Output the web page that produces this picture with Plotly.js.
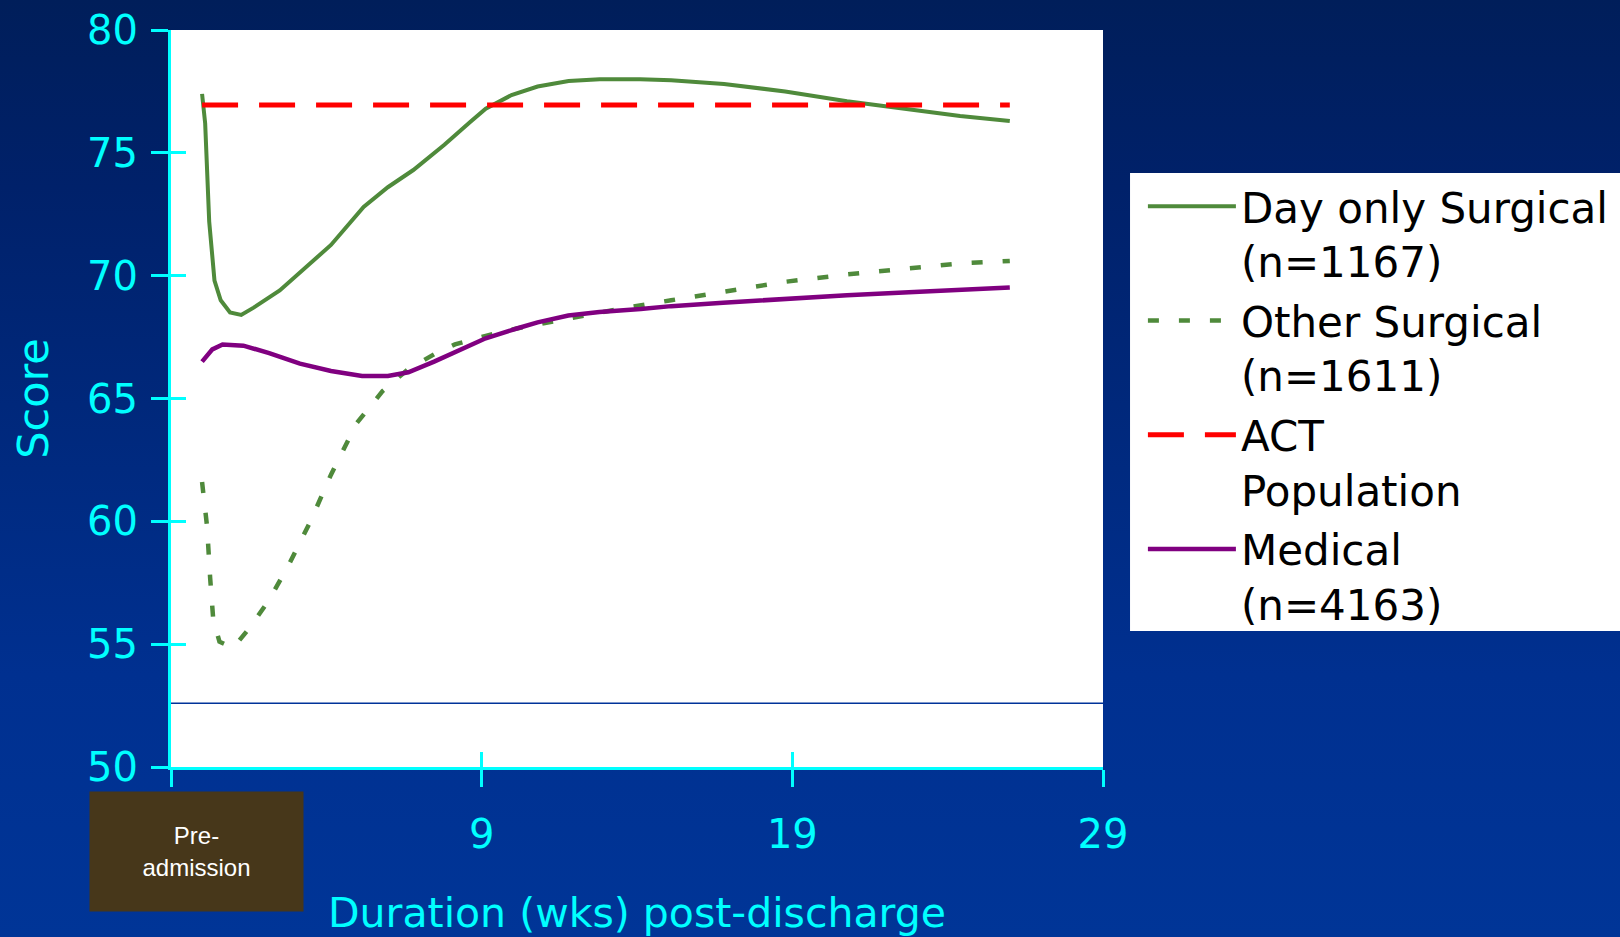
<!DOCTYPE html>
<html><head><meta charset="utf-8">
<script src="https://cdn.plot.ly/plotly-3.0.1.min.js"></script>
<style>
html,body{margin:0;padding:0;width:1620px;height:937px;overflow:hidden;
background:linear-gradient(to bottom,#001e5a 0%,#00216a 20%,#002a80 50%,#003090 72%,#003597 100%);}
#chart{width:1620px;height:937px;}
</style></head><body><div id="chart"></div>
<script>
// Day only Surgical (n=1167)
const dayOnlyWeeks = [0,0.1,0.23,0.4,0.6,0.9,1.26,1.66,2.5,3.15,4.15,5.2,5.98,6.8,7.8,8.63,9.13,9.96,10.8,11.8,12.8,14.1,15.1,16.8,18.77,20.76,22.75,24.4,26.0];
const dayOnlyScore = [77.4,76.2,72.2,69.8,69.0,68.5,68.4,68.7,69.4,70.15,71.25,72.8,73.6,74.3,75.33,76.26,76.8,77.35,77.7,77.92,78.0,78.0,77.95,77.8,77.5,77.1,76.76,76.5,76.3];
// Other Surgical (n=1611)
const otherWeeks = [0,0.16,0.26,0.36,0.56,1.0,1.49,2.16,2.82,3.49,4.15,4.98,5.81,6.64,7.47,8.14,9.13,10.13,11.79,13.45,15.1,16.77,18.77,20.76,22.75,24.4,26.0];
const otherScore = [61.6,59.8,57.7,56.0,55.1,54.85,55.6,56.8,58.3,60.0,61.9,64.0,65.3,66.2,66.8,67.2,67.55,67.85,68.25,68.65,69.0,69.35,69.75,70.05,70.3,70.5,70.6];
// ACT Population
const actWeeks = [0,26.0];
const actScore = [76.95,76.95];
// Medical (n=4163)
const medWeeks = [0,0.33,0.66,1.33,2.16,3.15,4.15,5.15,5.98,6.64,7.47,8.3,9.13,10.13,10.8,11.79,12.79,14.12,15.1,16.77,18.77,20.76,22.75,24.4,26.0];
const medScore = [66.5,67.0,67.2,67.15,66.85,66.42,66.12,65.92,65.92,66.07,66.5,67.0,67.45,67.85,68.1,68.38,68.52,68.64,68.76,68.9,69.06,69.2,69.32,69.44,69.52];

const seriesNames = ['Day only Surgical<br>(n=1167)','Other Surgical<br>(n=1611)','ACT<br>Population','Medical<br>(n=4163)'];
const xTickVals = [-1,9,19,29];
const xTickText = ['','9','19','29'];
const yTickVals = [50,55,60,65,70,75,80];
const refLineValue = 52.6;

const FONT = 'DejaVu Sans, Verdana, sans-serif';
const FONT2 = 'Liberation Sans, Arial, sans-serif';
const CYAN = '#00ffff';
const GREEN = '#4f8a3b';

const traces = [
  {x: dayOnlyWeeks, y: dayOnlyScore, name: seriesNames[0], legendgroup:'g1', type:'scatter', mode:'lines',
   line:{color:GREEN, width:4}},
  {x: otherWeeks, y: otherScore, name: seriesNames[1], legendgroup:'g2', type:'scatter', mode:'lines',
   line:{color:GREEN, width:4.5, dash:'11px,20px'}},
  {x: actWeeks, y: actScore, name: seriesNames[2], legendgroup:'g3', type:'scatter', mode:'lines',
   line:{color:'#ff0000', width:5, dash:'36px,21px'}},
  {x: medWeeks, y: medScore, name: seriesNames[3], legendgroup:'g4', type:'scatter', mode:'lines',
   line:{color:'#800080', width:4.5}},
  // carrier for the inner half of the crossing tick marks (no data)
  {x: [], y: [], xaxis:'x2', yaxis:'y2', type:'scatter', mode:'lines', showlegend:false, hoverinfo:'skip'}
];

const layout = {
  width:1620, height:937,
  margin:{l:171, r:517, t:30, b:170, pad:0},
  paper_bgcolor:'rgba(0,0,0,0)',
  plot_bgcolor:'#ffffff',
  showlegend:true,
  font:{family:FONT, color:CYAN},
  xaxis:{range:[-1,29], tickmode:'array', tickvals:xTickVals, ticktext:xTickText,
    ticks:'outside', ticklen:17, tickwidth:3, tickcolor:CYAN,
    showline:true, linecolor:CYAN, linewidth:3, showgrid:false, zeroline:false,
    tickfont:{family:FONT, size:40, color:CYAN}, ticklabelstandoff:13,
    title:{text:'Duration (wks) post-discharge', font:{family:FONT, size:41, color:CYAN}, standoff:46}},
  yaxis:{range:[50,80], tickmode:'array', tickvals:yTickVals,
    ticks:'outside', ticklen:17, tickwidth:3, tickcolor:CYAN,
    showline:true, linecolor:CYAN, linewidth:3, showgrid:false, zeroline:false,
    tickfont:{family:FONT, size:40, color:CYAN}, ticklabelstandoff:5,
    title:{text:'Score', font:{family:FONT, size:43, color:CYAN}, standoff:26}},
  xaxis2:{range:[-1,29], overlaying:'x', anchor:'y', side:'bottom', tickmode:'array', tickvals:xTickVals,
    ticks:'inside', ticklen:15, tickwidth:3, tickcolor:CYAN, showticklabels:false,
    showline:false, showgrid:false, zeroline:false},
  yaxis2:{range:[50,80], overlaying:'y', anchor:'x', side:'left', tickmode:'array', tickvals:yTickVals,
    ticks:'inside', ticklen:15, tickwidth:3, tickcolor:CYAN, showticklabels:false,
    showline:false, showgrid:false, zeroline:false},
  legend:{xref:'container', yref:'container', x:0.7055, y:0.8159, xanchor:'left', yanchor:'top',
    bgcolor:'rgba(0,0,0,0)', borderwidth:0,
    font:{family:FONT, size:42, color:'#000000'}, itemwidth:88, valign:'top', tracegroupgap:2},
  shapes:[
    {type:'line', xref:'paper', x0:0, x1:1, yref:'y', y0:refLineValue, y1:refLineValue,
     line:{color:'#003399', width:1.5}, layer:'below'},
    {type:'rect', xref:'paper', yref:'paper', x0:1.0290, x1:1.5558, y0:0.1845, y1:0.806,
     fillcolor:'#ffffff', line:{width:0}, layer:'above'}
  ],
  annotations:[
    {xref:'paper', yref:'paper', x:0.0273, y:-0.114, xanchor:'center', yanchor:'middle',
     text:'Pre-<br>admission', showarrow:false, bgcolor:'#47371a', width:211, height:117,
     font:{family:FONT2, size:24, color:'#ffffff'}, align:'center', valign:'middle'}
  ]
};

Plotly.newPlot('chart', traces, layout, {displayModeBar:false, staticPlot:true});
</script>
</body></html>
